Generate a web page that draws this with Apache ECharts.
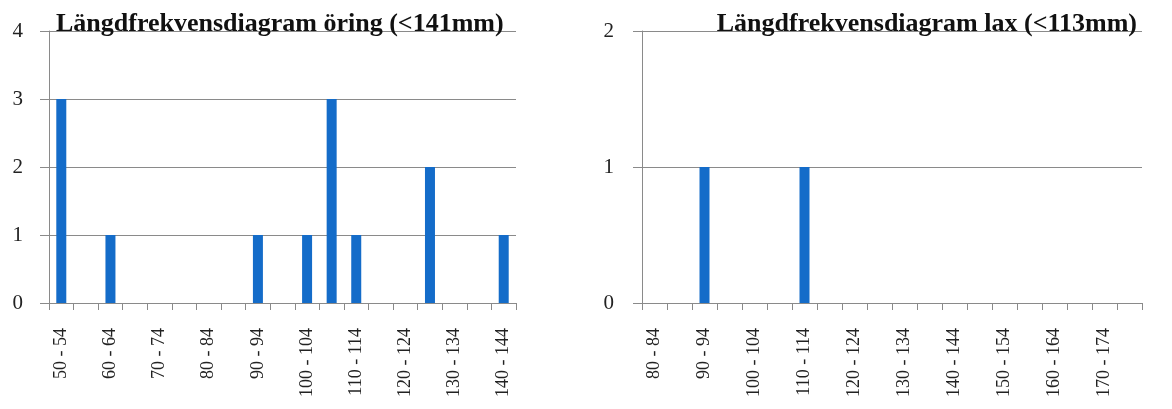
<!DOCTYPE html>
<html>
<head>
<meta charset="utf-8">
<script src="https://cdn.jsdelivr.net/npm/echarts@6/dist/echarts.min.js"></script>
<style>
html,body{margin:0;padding:0;background:#fff;}
#chart{width:1172px;height:409px;}
</style>
</head>
<body>
<div id="chart"></div>
<script>
const troutTitle = 'Längdfrekvensdiagram öring (<141mm)';
const salmonTitle = 'Längdfrekvensdiagram lax (<113mm)';
const troutCategories = ['50 - 54','55 - 59','60 - 64','65 - 69','70 - 74','75 - 79','80 - 84','85 - 89','90 - 94','95 - 99','100 - 104','105 - 109','110 - 114','115 - 119','120 - 124','125 - 129','130 - 134','135 - 139','140 - 144'];
const troutValues = [3,0,1,0,0,0,0,0,1,0,1,3,1,0,0,2,0,0,1];
const salmonCategories = ['80 - 84','85 - 89','90 - 94','95 - 99','100 - 104','105 - 109','110 - 114','115 - 119','120 - 124','125 - 129','130 - 134','135 - 139','140 - 144','145 - 149','150 - 154','155 - 159','160 - 164','165 - 169','170 - 174','175 - 179'];
const salmonValues = [0,0,1,0,0,0,1,0,0,0,0,0,0,0,0,0,0,0,0,0];
const troutMax = 4;
const salmonMax = 2;

const serif = '"Liberation Serif","Times New Roman",serif';
const barColor = '#146CC9';
const lineColor = '#8a8a8a';

function xAxisDef(idx, cats) {
  return {
    type: 'category', gridIndex: idx, data: cats, boundaryGap: true,
    axisLine: {show: true, lineStyle: {color: lineColor, width: 1}},
    axisTick: {show: true, interval: 0, alignWithLabel: false, length: 7, lineStyle: {color: lineColor}},
    axisLabel: {interval: 1, rotate: 90, margin: 25, fontFamily: serif, fontSize: 18, color: '#222'},
    splitLine: {show: false}
  };
}
function yAxisDef(idx, max, margin) {
  return {
    type: 'value', gridIndex: idx, min: 0, max: max, interval: 1,
    axisLine: {show: true, lineStyle: {color: lineColor, width: 1}},
    axisTick: {show: true, length: 9, lineStyle: {color: lineColor}},
    axisLabel: {margin: margin, fontFamily: serif, fontSize: 21, color: '#222'},
    splitLine: {show: true, lineStyle: {color: lineColor, width: 1}}
  };
}

const chart = echarts.init(document.getElementById('chart'), null, {renderer: 'canvas'});
chart.setOption({
  animation: false,
  backgroundColor: '#fff',
  title: [
    {text: troutTitle, left: 51, top: 6, textStyle: {fontFamily: serif, fontSize: 26, fontWeight: 'bold', color: '#111', lineHeight: 26}},
    {text: salmonTitle, right: 30, top: 6, textStyle: {fontFamily: serif, fontSize: 26, fontWeight: 'bold', color: '#111', lineHeight: 26}}
  ],
  grid: [
    {left: 49, top: 31, width: 467, bottom: 106, containLabel: false},
    {left: 642, top: 31, width: 500, bottom: 106, containLabel: false}
  ],
  xAxis: [xAxisDef(0, troutCategories), xAxisDef(1, salmonCategories)],
  yAxis: [yAxisDef(0, troutMax, 26), yAxisDef(1, salmonMax, 28)],
  series: [
    {type: 'bar', xAxisIndex: 0, yAxisIndex: 0, data: troutValues, barWidth: 10, itemStyle: {color: barColor}},
    {type: 'bar', xAxisIndex: 1, yAxisIndex: 1, data: salmonValues, barWidth: 10, itemStyle: {color: barColor}}
  ]
});
</script>
</body>
</html>
